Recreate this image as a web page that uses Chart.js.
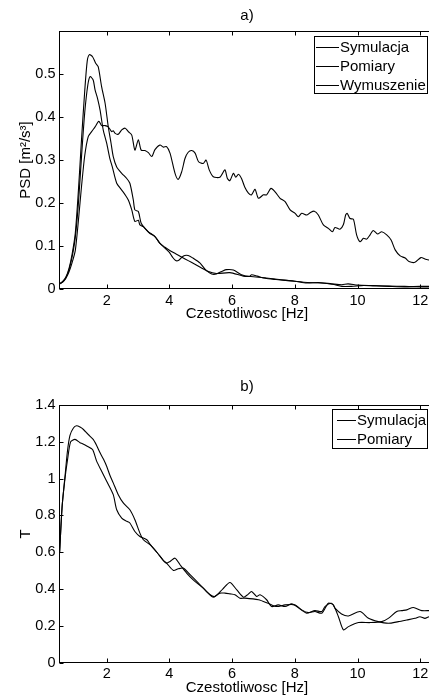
<!DOCTYPE html>
<html><head><meta charset="utf-8">
<script src="https://cdn.jsdelivr.net/npm/chart.js@4/dist/chart.umd.min.js"></script>
<style>
html,body{margin:0;padding:0;background:#fff;overflow:hidden;}
#wrap{position:relative;width:429px;height:698px;overflow:hidden;background:#fff;}
.pane{position:absolute;left:0;width:435px;height:349px;}
</style></head><body>
<div id="wrap">
<div class="pane" style="top:0"><canvas id="c1" width="435" height="349"></canvas></div>
<div class="pane" style="top:349px"><canvas id="c2" width="435" height="349"></canvas></div>
</div>
<script>
// ---------- a) PSD ----------
const freqSym = [0.5,0.6,0.7,0.8,0.9,1.0,1.1,1.2,1.3,1.38,1.45,1.55,1.65,1.73,1.84,1.95,2.05,2.14,2.21,2.32,2.48,2.64,2.74,2.85,2.9,3.01,3.1,3.22,3.38,3.54,3.7,3.86,4.0,4.1,4.2,4.3,4.45,4.6,4.75,4.98,5.15,5.35,5.5,5.7,5.82,6.04,6.3,6.55,6.62,6.8,7.05,7.4,7.69,8.0,8.38,8.75,9.18,9.5,9.7,10.0,10.5,11.0,11.5,12.0,12.5];
const psdSym = [0.012,0.018,0.028,0.048,0.082,0.13,0.23,0.35,0.46,0.53,0.545,0.54,0.525,0.517,0.47,0.432,0.378,0.339,0.308,0.284,0.269,0.257,0.246,0.207,0.184,0.18,0.153,0.141,0.129,0.122,0.106,0.095,0.085,0.074,0.066,0.067,0.077,0.078,0.072,0.06,0.045,0.035,0.035,0.042,0.045,0.044,0.033,0.029,0.033,0.03,0.025,0.022,0.02,0.018,0.014,0.015,0.012,0.01,0.012,0.009,0.008,0.007,0.006,0.005,0.005];

const freqPom = [0.5,0.6,0.7,0.8,0.9,1.0,1.1,1.2,1.3,1.4,1.47,1.57,1.63,1.71,1.79,1.89,2.0,2.1,2.18,2.32,2.48,2.59,2.69,2.8,2.9,3.01,3.06,3.17,3.33,3.54,3.7,3.86,4.0,4.2,4.4,4.6,4.8,5.0,5.2,5.5,5.93,6.36,6.6,7.05,7.5,8.0,8.4,8.8,9.2,9.5,9.8,10.2,10.6,11.0,11.5,12.0,12.5];
const psdPom = [0.012,0.017,0.026,0.045,0.075,0.12,0.2,0.31,0.41,0.475,0.494,0.486,0.463,0.443,0.416,0.37,0.339,0.304,0.284,0.246,0.23,0.219,0.207,0.184,0.157,0.16,0.149,0.145,0.133,0.122,0.106,0.097,0.09,0.082,0.074,0.066,0.058,0.05,0.042,0.036,0.038,0.03,0.029,0.026,0.022,0.018,0.015,0.014,0.011,0.006,0.006,0.008,0.007,0.006,0.005,0.006,0.006];

const freqWym = [0.5,0.6,0.7,0.8,0.9,1.0,1.1,1.2,1.3,1.41,1.52,1.63,1.75,1.84,1.95,2.05,2.16,2.21,2.27,2.37,2.48,2.59,2.69,2.8,2.9,3.01,3.1,3.22,3.33,3.44,3.54,3.7,3.81,3.91,4.02,4.18,4.28,4.39,4.5,4.6,4.71,4.82,4.93,5.08,5.17,5.27,5.4,5.61,5.77,5.85,5.93,6.04,6.12,6.2,6.3,6.41,6.52,6.62,6.73,6.84,7.0,7.1,7.24,7.37,7.53,7.69,7.85,8.01,8.11,8.22,8.38,8.48,8.62,8.75,8.91,9.07,9.2,9.28,9.44,9.55,9.62,9.67,9.76,9.87,9.97,10.08,10.19,10.29,10.4,10.5,10.64,10.77,10.93,11.07,11.2,11.36,11.52,11.64,11.83,12.02,12.17,12.31,12.5];
const psdWym = [0.012,0.016,0.025,0.04,0.062,0.09,0.16,0.24,0.31,0.354,0.366,0.377,0.39,0.38,0.38,0.377,0.366,0.368,0.362,0.36,0.37,0.374,0.366,0.358,0.323,0.347,0.323,0.322,0.317,0.308,0.324,0.335,0.33,0.331,0.316,0.269,0.255,0.272,0.304,0.318,0.322,0.316,0.296,0.292,0.3,0.277,0.261,0.26,0.277,0.257,0.252,0.269,0.26,0.267,0.257,0.236,0.223,0.219,0.232,0.211,0.219,0.219,0.234,0.226,0.211,0.203,0.184,0.176,0.168,0.176,0.172,0.177,0.181,0.172,0.149,0.141,0.133,0.143,0.139,0.15,0.172,0.176,0.164,0.162,0.126,0.11,0.118,0.116,0.126,0.136,0.128,0.133,0.126,0.114,0.091,0.077,0.072,0.064,0.062,0.073,0.069,0.067,0.066];

// ---------- b) T ----------
const freqTSym = [0.5,0.58,0.67,0.75,0.83,0.94,1.04,1.15,1.26,1.41,1.57,1.68,1.79,1.9,2.0,2.1,2.21,2.37,2.53,2.74,2.9,3.06,3.17,3.38,3.6,3.81,3.91,4.02,4.18,4.34,4.55,4.76,5.08,5.3,5.45,5.7,5.93,6.15,6.36,6.5,6.62,6.78,6.89,7.1,7.26,7.47,7.69,7.9,8.06,8.38,8.64,8.86,8.96,9.17,9.28,9.39,9.55,9.71,10.03,10.4,10.77,10.98,11.25,11.41,11.57,11.78,12.05,12.28,12.5];
const tSym = [0.6,0.85,1.01,1.15,1.235,1.275,1.287,1.28,1.267,1.24,1.213,1.18,1.14,1.105,1.067,1.02,0.977,0.913,0.868,0.831,0.777,0.704,0.668,0.641,0.6,0.555,0.541,0.55,0.568,0.532,0.487,0.45,0.405,0.369,0.36,0.4,0.436,0.395,0.356,0.37,0.387,0.36,0.369,0.342,0.305,0.314,0.305,0.32,0.305,0.269,0.283,0.278,0.305,0.323,0.296,0.25,0.178,0.196,0.218,0.218,0.223,0.241,0.278,0.283,0.287,0.3,0.283,0.283,0.285];

const freqTPom = [0.5,0.58,0.67,0.75,0.85,0.99,1.15,1.23,1.38,1.55,1.68,1.84,2.0,2.21,2.32,2.48,2.64,2.74,2.9,3.06,3.28,3.38,3.6,3.81,3.91,4.13,4.28,4.44,4.66,4.98,5.24,5.4,5.61,5.77,5.93,6.09,6.25,6.41,6.84,7.15,7.42,7.69,8.0,8.22,8.43,8.64,8.86,9.07,9.23,9.28,9.49,9.71,10.08,10.35,10.66,10.98,11.3,11.57,11.83,11.99,12.15,12.28,12.5];
const tPom = [0.6,0.85,1.0,1.1,1.2,1.213,1.195,1.19,1.176,1.158,1.095,1.04,0.986,0.913,0.831,0.786,0.768,0.759,0.713,0.686,0.668,0.645,0.6,0.555,0.541,0.501,0.51,0.514,0.478,0.423,0.378,0.356,0.378,0.378,0.374,0.369,0.35,0.351,0.342,0.323,0.305,0.314,0.314,0.287,0.272,0.278,0.269,0.323,0.314,0.296,0.265,0.254,0.278,0.241,0.223,0.214,0.223,0.232,0.241,0.25,0.241,0.25,0.25];

const xTicks = [2,4,6,8,10,12];
const yTicksPSD = [0,0.1,0.2,0.3,0.4,0.5];
const yTicksT = [0,0.2,0.4,0.6,0.8,1,1.2,1.4];
const xLabel = 'Czestotliwosc [Hz]';
const yLabelPSD = 'PSD [m\u00B2/s\u00B3]';
const yLabelT = 'T';

const FONT = '"Liberation Sans", Arial, Helvetica, sans-serif';
Chart.defaults.font.family = FONT;
Chart.defaults.color = '#000';

function pts(xs, ys){ return xs.map((x,i)=>({x:x, y:ys[i]})); }
function ds(label, xs, ys){
  return {label, data: pts(xs,ys), borderColor:'#000', borderWidth:1.1, pointRadius:0, tension:0.25, fill:false};
}

const framePlugin = {
  id:'frame',
  afterDraw(chart, args, o){
    const {ctx, chartArea:a, scales:{x,y}} = chart;
    ctx.save();
    ctx.strokeStyle = '#000'; ctx.lineWidth = 1;
    const L = Math.round(a.left)+0.5, R = Math.round(a.right)-0.5, T = Math.round(a.top)+0.5, B = Math.round(a.bottom)-0.5;
    ctx.strokeRect(L, T, R-L, B-T);
    ctx.beginPath();
    x.ticks.forEach(t=>{ const p = Math.round(x.getPixelForValue(t.value))+0.5; ctx.moveTo(p,B); ctx.lineTo(p,B-4); ctx.moveTo(p,T); ctx.lineTo(p,T+4); });
    y.ticks.forEach(t=>{ const p = Math.round(y.getPixelForValue(t.value))+0.5; ctx.moveTo(L,p); ctx.lineTo(L+4,p); ctx.moveTo(R,p); ctx.lineTo(R-4,p); });
    ctx.stroke();
    ctx.fillStyle = '#000';
    ctx.font = '15px ' + FONT;
    ctx.textAlign = 'center'; ctx.textBaseline = 'middle';
    ctx.fillText(o.title, (a.left+a.right)/2, o.titleY);
    // legend
    const lg = o.legend;
    ctx.fillStyle = '#fff';
    ctx.fillRect(lg.x, lg.y, lg.w, lg.h);
    ctx.strokeRect(lg.x, lg.y, lg.w, lg.h);
    ctx.textAlign = 'left';
    chart.data.datasets.forEach((d,i)=>{
      const ry = lg.rows[i];
      ctx.beginPath(); ctx.strokeStyle = d.borderColor; ctx.lineWidth = 1;
      ctx.moveTo(lg.line[0], ry+0.5); ctx.lineTo(lg.line[1], ry+0.5); ctx.stroke();
      ctx.fillStyle = '#000';
      ctx.fillText(d.label, lg.textX, ry+1);
    });
    ctx.restore();
  }
};

function makeChart(id, datasets, yTicks, yMax, yLabel, padTop, padBottom, xH, frameOpts){
  return new Chart(document.getElementById(id), {
    type:'line',
    data:{datasets},
    options:{
      responsive:false, animation:false, devicePixelRatio:1,
      layout:{padding:{top:padTop, bottom:padBottom, left:0, right:0}},
      plugins:{legend:{display:false}, tooltip:{enabled:false}, title:{display:false}, frame:frameOpts},
      scales:{
        x:{type:'linear', min:0.48, max:12.47,
           grid:{display:false, drawTicks:false}, border:{display:false},
           afterBuildTicks:s=>{ s.ticks = xTicks.map(v=>({value:v})); },
           afterFit:s=>{ s.height = xH; },
           ticks:{padding:3, font:{size:14.5}, maxRotation:0, callback:v=>String(v)},
           title:{display:true, text:xLabel, font:{size:15}, padding:{top:0,bottom:0}}},
        y:{type:'linear', min:0, max:yMax,
           grid:{display:false, drawTicks:false}, border:{display:false},
           afterBuildTicks:s=>{ s.ticks = yTicks.map(v=>({value:v})); },
           afterFit:s=>{ s.width = 59; },
           ticks:{padding:3.5, font:{size:14.5}, callback:v=>String(+(+v).toFixed(2))},
           title:{display:true, text:yLabel, font:{size:15}, padding:{top:17,bottom:0}}}
      }
    },
    plugins:[framePlugin]
  });
}

makeChart('c1',
  [ds('Symulacja', freqSym, psdSym), ds('Pomiary', freqPom, psdPom), ds('Wymuszenie', freqWym, psdWym)],
  yTicksPSD, 0.6, yLabelPSD, 31, 26, 34,
  {title:'a)', titleY:16, legend:{x:314.5, y:36.5, w:113, h:57, rows:[47,66,85], line:[316,339], textX:340}});

makeChart('c2',
  [ds('Symulacja', freqTSym, tSym), ds('Pomiary', freqTPom, tPom)],
  yTicksT, 1.4, yLabelT, 56, 1.3, 34,
  {title:'b)', titleY:38, legend:{x:332.5, y:60.5, w:95, h:39, rows:[71,90], line:[337,356], textX:357}});
</script>
</body></html>
